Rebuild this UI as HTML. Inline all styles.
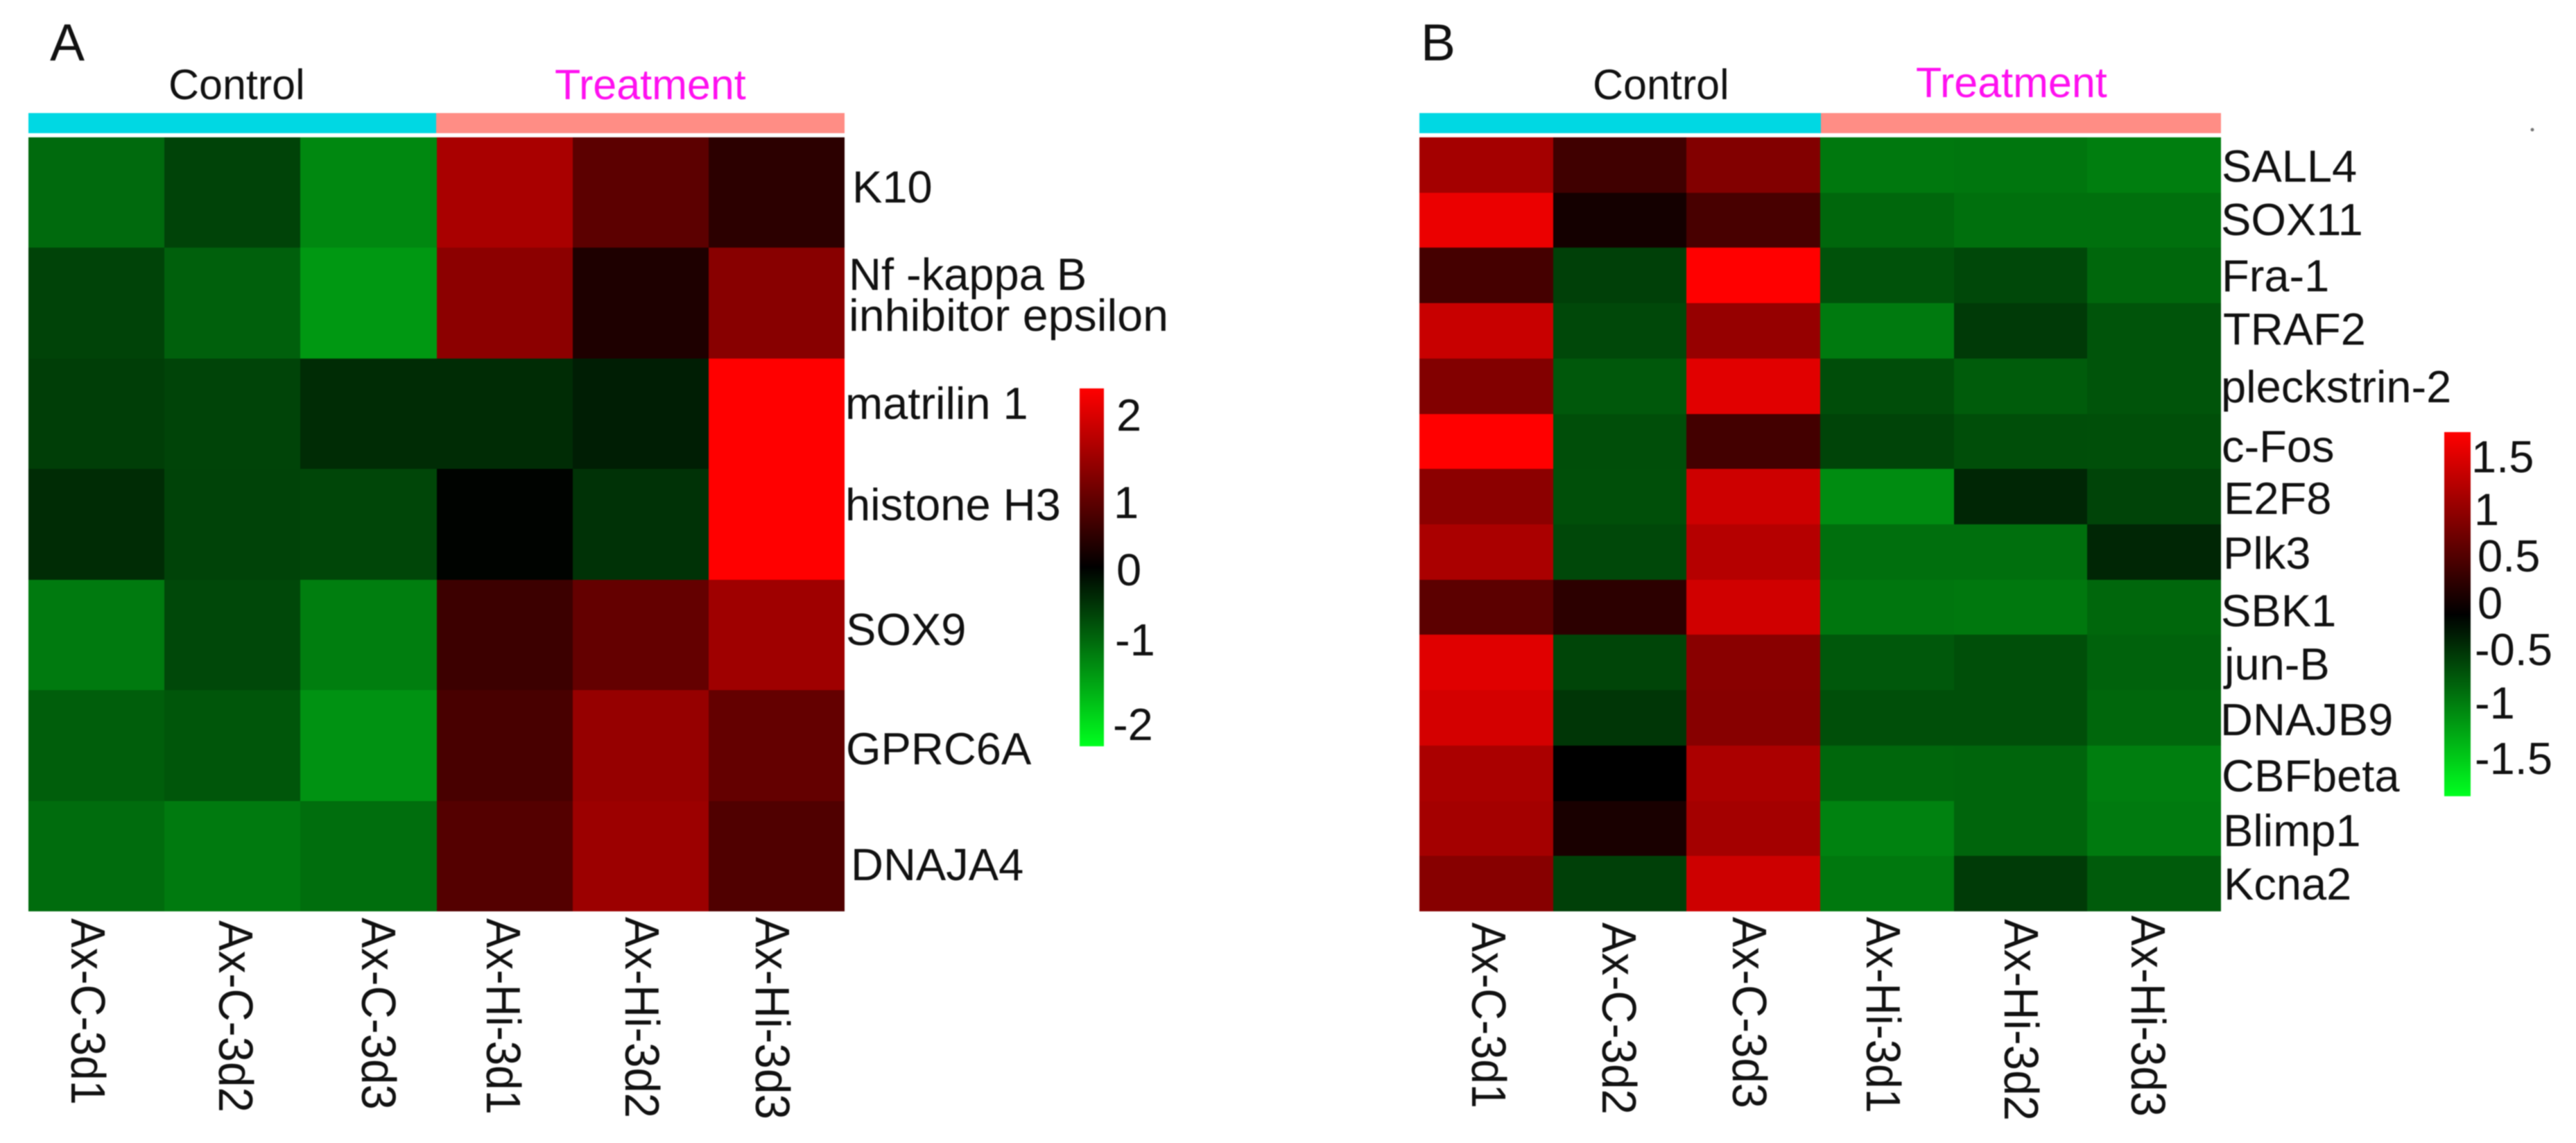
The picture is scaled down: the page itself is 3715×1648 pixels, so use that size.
<!DOCTYPE html>
<html lang="en">
<head>
<meta charset="utf-8">
<title>Heatmaps A and B</title>
<style>
html,body{margin:0;padding:0;background:#fff;width:3715px;height:1648px;overflow:hidden}
svg{display:block;filter:blur(0.8px)}
text{font-family:"Liberation Sans",sans-serif;fill:#111}
.rl{font-size:65px}
.cl{font-size:70px}
.tk{font-size:65px}
.pl{font-size:75px}
.gp{font-size:61px}
.tr{fill:#ff10f0}
</style>
</head>
<body>
<svg id="figure" xmlns="http://www.w3.org/2000/svg" width="3715" height="1648" viewBox="0 0 3715 1648">
<rect x="0" y="0" width="3715" height="1648" fill="#ffffff"/>
<defs>
<linearGradient id="gradA" x1="0" y1="0" x2="0" y2="1"></linearGradient>
<linearGradient id="gradB" x1="0" y1="0" x2="0" y2="1"></linearGradient>
</defs>

<!-- Panel A -->
<g>
<text class="pl" x="72" y="87">A</text>
<text class="gp" x="243" y="143">Control</text>
<text class="gp tr" x="800" y="143">Treatment</text>
<rect x="41" y="163" width="588" height="29" fill="#00d8e3"/>
<rect x="629" y="163" width="589" height="29" fill="#ff8d85"/>
<g id="cellsA"></g>
<text class="rl" x="1229" y="292">K10</text>
<text class="rl" x="1224" y="418">Nf -kappa B</text>
<text class="rl" x="1224" y="477" textLength="461" lengthAdjust="spacingAndGlyphs">inhibitor epsilon</text>
<text class="rl" x="1219" y="604">matrilin 1</text>
<text class="rl" x="1219" y="750">histone H3</text>
<text class="rl" x="1220" y="930">SOX9</text>
<text class="rl" x="1220" y="1102">GPRC6A</text>
<text class="rl" x="1227" y="1269">DNAJA4</text>
<text class="cl" transform="translate(103,1324) rotate(90)" textLength="269" lengthAdjust="spacingAndGlyphs">Ax-C-3d1</text>
<text class="cl" transform="translate(316,1327) rotate(90)" textLength="277" lengthAdjust="spacingAndGlyphs">Ax-C-3d2</text>
<text class="cl" transform="translate(522,1323) rotate(90)" textLength="277" lengthAdjust="spacingAndGlyphs">Ax-C-3d3</text>
<text class="cl" transform="translate(702,1324) rotate(90)" textLength="283" lengthAdjust="spacingAndGlyphs">Ax-Hi-3d1</text>
<text class="cl" transform="translate(902,1322) rotate(90)" textLength="290" lengthAdjust="spacingAndGlyphs">Ax-Hi-3d2</text>
<text class="cl" transform="translate(1090,1322) rotate(90)" textLength="292" lengthAdjust="spacingAndGlyphs">Ax-Hi-3d3</text>
<rect x="1557" y="560" width="35" height="516" fill="url(#gradA)"/>
<text class="tk" x="1610" y="621">2</text>
<text class="tk" x="1606" y="747">1</text>
<text class="tk" x="1610" y="844">0</text>
<text class="tk" x="1608" y="945">-1</text>
<text class="tk" x="1605" y="1067">-2</text>
</g>

<!-- Panel B -->
<g>
<text class="pl" x="2049" y="87">B</text>
<text class="gp" x="2297" y="143">Control</text>
<text class="gp tr" x="2763" y="140">Treatment</text>
<rect x="2047" y="163" width="579" height="29" fill="#00d8e3"/>
<rect x="2626" y="163" width="577" height="29" fill="#ff8d85"/>
<g id="cellsB"></g>
<text class="rl" x="3204" y="262">SALL4</text>
<text class="rl" x="3203" y="339">SOX11</text>
<text class="rl" x="3204" y="420">Fra-1</text>
<text class="rl" x="3206" y="497">TRAF2</text>
<text class="rl" x="3203" y="580">pleckstrin-2</text>
<text class="rl" x="3204" y="666">c-Fos</text>
<text class="rl" x="3207" y="741">E2F8</text>
<text class="rl" x="3206" y="820">Plk3</text>
<text class="rl" x="3203" y="903">SBK1</text>
<text class="rl" x="3208" y="980">jun-B</text>
<text class="rl" x="3202" y="1060">DNAJB9</text>
<text class="rl" x="3204" y="1141">CBFbeta</text>
<text class="rl" x="3206" y="1220">Blimp1</text>
<text class="rl" x="3207" y="1297">Kcna2</text>
<text class="cl" transform="translate(2123,1330) rotate(90)" textLength="268" lengthAdjust="spacingAndGlyphs">Ax-C-3d1</text>
<text class="cl" transform="translate(2311,1330) rotate(90)" textLength="277" lengthAdjust="spacingAndGlyphs">Ax-C-3d2</text>
<text class="cl" transform="translate(2499,1322) rotate(90)" textLength="276" lengthAdjust="spacingAndGlyphs">Ax-C-3d3</text>
<text class="cl" transform="translate(2692,1322) rotate(90)" textLength="283" lengthAdjust="spacingAndGlyphs">Ax-Hi-3d1</text>
<text class="cl" transform="translate(2891,1325) rotate(90)" textLength="291" lengthAdjust="spacingAndGlyphs">Ax-Hi-3d2</text>
<text class="cl" transform="translate(3074,1320) rotate(90)" textLength="290" lengthAdjust="spacingAndGlyphs">Ax-Hi-3d3</text>
<rect x="3525" y="623" width="38" height="525" fill="url(#gradB)"/>
<text class="tk" x="3564" y="681">1.5</text>
<text class="tk" x="3568" y="757">1</text>
<text class="tk" x="3573" y="824">0.5</text>
<text class="tk" x="3573" y="892">0</text>
<text class="tk" x="3569" y="959">-0.5</text>
<text class="tk" x="3569" y="1036">-1</text>
<text class="tk" x="3569" y="1116">-1.5</text>
<circle cx="3652" cy="187" r="2.5" fill="#777"/>
</g>
</svg>

<script>
const samples = ["Ax-C-3d1","Ax-C-3d2","Ax-C-3d3","Ax-Hi-3d1","Ax-Hi-3d2","Ax-Hi-3d3"];
const genesA = ["K10","Nf-kappa B inhibitor epsilon","matrilin 1","histone H3","SOX9","GPRC6A","DNAJA4"];
const genesB = ["SALL4","SOX11","Fra-1","TRAF2","pleckstrin-2","c-Fos","E2F8","Plk3","SBK1","jun-B","DNAJB9","CBFbeta","Blimp1","Kcna2"];
const maxA = 2.3;
const maxB = 1.8;
const valuesA = [
  [-0.96,-0.60,-1.23, 1.52, 0.83, 0.40],
  [-0.60,-0.87,-1.37, 1.26, 0.27, 1.23],
  [-0.56,-0.61,-0.40,-0.40,-0.27, 2.30],
  [-0.40,-0.60,-0.63,-0.03,-0.45, 2.30],
  [-1.10,-0.65,-1.14, 0.54, 0.90, 1.43],
  [-0.85,-0.78,-1.32, 0.65, 1.35, 0.90],
  [-0.97,-1.10,-0.99, 0.76, 1.41, 0.72]
];
const valuesB = [
  [ 1.16, 0.45, 0.92,-0.85,-0.83,-0.89],
  [ 1.66, 0.14, 0.51,-0.73,-0.79,-0.79],
  [ 0.49,-0.45, 1.80,-0.58,-0.51,-0.73],
  [ 1.41,-0.51, 1.06,-0.86,-0.41,-0.59],
  [ 0.92,-0.62, 1.59,-0.54,-0.65,-0.59],
  [ 1.80,-0.55, 0.47,-0.48,-0.55,-0.56],
  [ 0.99,-0.56, 1.45,-0.99,-0.27,-0.48],
  [ 1.20,-0.51, 1.28,-0.78,-0.78,-0.27],
  [ 0.65, 0.31, 1.47,-0.83,-0.85,-0.73],
  [ 1.58,-0.49, 0.97,-0.62,-0.56,-0.69],
  [ 1.50,-0.38, 0.95,-0.56,-0.56,-0.73],
  [ 1.20, 0.00, 1.21,-0.73,-0.71,-0.89],
  [ 1.16, 0.18, 1.16,-0.92,-0.71,-0.86],
  [ 0.95,-0.45, 1.45,-0.85,-0.42,-0.64]
];

const SVG_NS = "http://www.w3.org/2000/svg";

function colorScale(v, max) {
  const t = Math.max(-1, Math.min(1, v / max));
  const level = Math.round(Math.abs(t) * 255);
  if (t >= 0) return "rgb(" + level + ",0,0)";
  return "rgb(0," + level + "," + Math.round(level * 0.12) + ")";
}

function bandScale(start, end, count) {
  return function (i) { return Math.round(start + (end - start) * i / count); };
}

function drawHeatmap(groupId, values, rowNames, left, right, top, bottom, max) {
  const group = document.getElementById(groupId);
  const x = bandScale(left, right, samples.length);
  const y = bandScale(top, bottom, rowNames.length);
  values.forEach(function (row, r) {
    row.forEach(function (value, c) {
      const cell = document.createElementNS(SVG_NS, "rect");
      cell.setAttribute("x", x(c));
      cell.setAttribute("y", y(r));
      cell.setAttribute("width", x(c + 1) - x(c));
      cell.setAttribute("height", y(r + 1) - y(r));
      cell.setAttribute("fill", colorScale(value, max));
      cell.setAttribute("shape-rendering", "crispEdges");
      cell.setAttribute("aria-label", rowNames[r] + " " + samples[c] + " " + value);
      
      
      group.appendChild(cell);
    });
  });
}

function drawGradient(gradId, max) {
  const grad = document.getElementById(gradId);
  for (let i = 0; i <= 20; i++) {
    const stop = document.createElementNS(SVG_NS, "stop");
    const value = max - (2 * max) * i / 20;
    stop.setAttribute("offset", (i * 5) + "%");
    stop.setAttribute("stop-color", colorScale(value, max));
    grad.appendChild(stop);
  }
}

drawHeatmap("cellsA", valuesA, genesA, 41, 1218, 198, 1314, maxA);
drawHeatmap("cellsB", valuesB, genesB, 2047, 3203, 198, 1314, maxB);
drawGradient("gradA", maxA);
drawGradient("gradB", maxB);
</script>
</body>
</html>
